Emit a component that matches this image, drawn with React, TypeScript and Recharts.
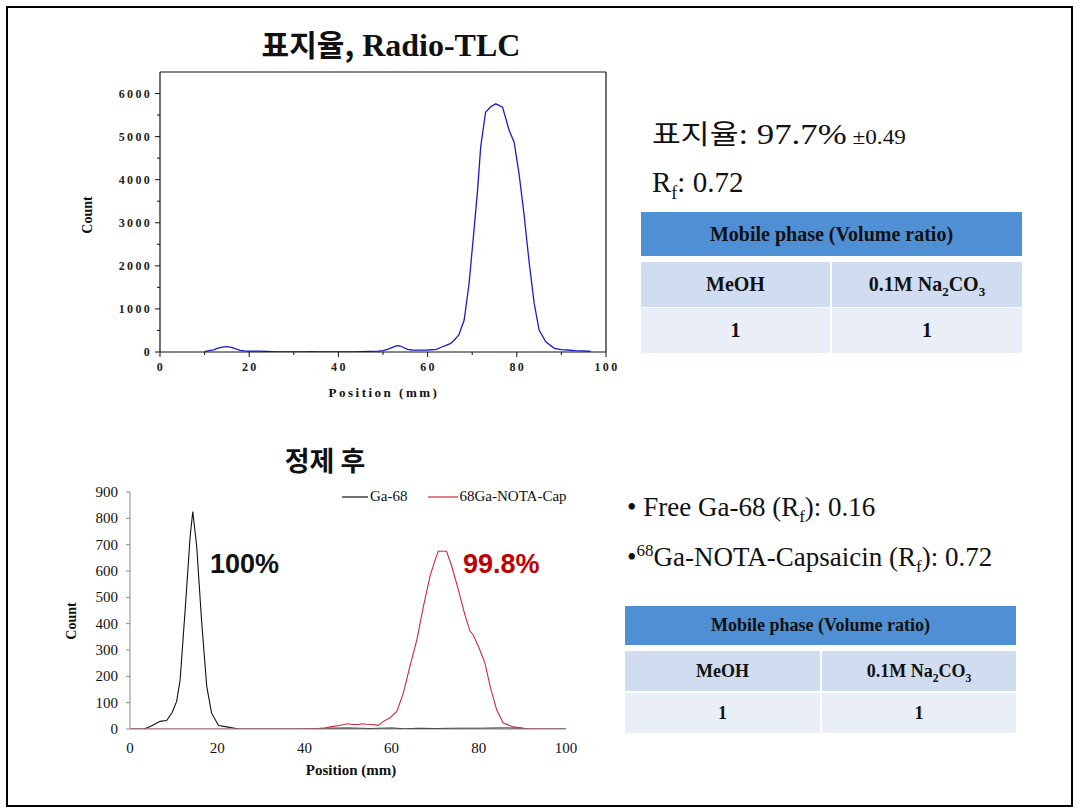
import React from 'react';
import { LineChart, Line, XAxis, YAxis, ReferenceLine, Legend } from 'recharts';

// ---- Top chart: 표지율, Radio-TLC ----
const tlcPosition = [10, 11, 12, 13, 14, 15, 16, 17, 18, 19, 20, 22, 24, 25, 26, 33, 34, 35, 44, 45, 47, 49, 50, 51, 52, 53, 53.6, 54.5, 55.5, 56.5, 58, 60, 62, 63, 64, 65.2, 66, 67, 68.2, 69.3, 70.4, 71.2, 71.9, 73, 74.2, 75.3, 76.8, 78.3, 79.4, 80.5, 81.6, 82.8, 83.9, 85, 86.5, 88.4, 90, 91.4, 93, 95, 96.6];
const tlcCount = [10, 30, 50, 90, 115, 123, 105, 70, 40, 25, 20, 18, 15, 10, 0, 0, 10, 0, 0, 10, 15, 20, 30, 60, 100, 140, 146, 110, 60, 46, 45, 46, 60, 110, 150, 200, 280, 394, 741, 1591, 2826, 3753, 4756, 5567, 5698, 5761, 5683, 5143, 4872, 4139, 3213, 2055, 1128, 510, 239, 85, 55, 46, 30, 25, 15];

// ---- Bottom chart: 정제 후 ----
const gaPosition = [0, 3, 3.4, 5, 6.9, 8.4, 9.6, 10.7, 11.5, 12.6, 13.8, 14.4, 15.3, 16.4, 17.6, 18.7, 20.3, 22.2, 24, 25, 40, 45, 50, 55, 60, 63, 66, 70, 75, 80, 85, 90, 92, 100];
const gaCount = [0, 0, 1, 12, 29, 32, 61, 105, 187, 441, 731, 826, 693, 415, 162, 61, 13, 8, 3, 0, 0, 3, 4, 2, 4, 1, 3, 2, 3, 3, 4, 3, 0, 0];
const capPosition = [0, 39, 43, 44.7, 46, 48.2, 50, 51, 52.4, 53.3, 54.3, 55.5, 57, 58.1, 59.6, 61.2, 62.7, 64.2, 65.8, 67.3, 68.8, 70, 70.7, 72.6, 73.8, 75.3, 76.8, 78, 78.7, 79.9, 81.4, 82.6, 84.1, 85.6, 87.9, 90.2, 92, 100];
const capCount = [0, 0, 2, 4, 8, 14, 20, 17, 17, 20, 18, 17, 14, 29, 42, 67, 137, 238, 339, 466, 580, 643, 675, 675, 618, 529, 434, 371, 358, 314, 251, 162, 73, 23, 8, 3, 0, 0];

const topXTicks = [0, 10, 20, 30, 40, 50, 60, 70, 80, 90, 100];
const topYTicks = [0, 500, 1000, 1500, 2000, 2500, 3000, 3500, 4000, 4500, 5000, 5500, 6000];
const bottomXTicks = [0, 20, 40, 60, 80, 100];
const bottomYTicks = [0, 100, 200, 300, 400, 500, 600, 700, 800, 900];
const seriesNames = ['Ga-68', '68Ga-NOTA-Cap'];

const tlcData = tlcPosition.map((x, i) => ({ x, y: tlcCount[i] }));
const gaData = gaPosition.map((x, i) => ({ x, y: gaCount[i] }));
const capData = capPosition.map((x, i) => ({ x, y: capCount[i] }));

const serif = '"Liberation Serif", "Times New Roman", serif';
const sans = '"Liberation Sans", Arial, sans-serif';
const kr = '"Noto Sans CJK KR", "Noto Sans", sans-serif';

function TopXTick(props: any) {
  const { x, y, payload } = props;
  const v = payload.value;
  const major = v % 20 === 0;
  return (
    <g>
      <line x1={x} y1={y} x2={x} y2={y + (major ? 5 : 3)} stroke="#111" strokeWidth={1} />
      {major ? (
        <text x={x + 1} y={y + 15} textAnchor="middle" dominantBaseline="central" fontFamily={serif} fontWeight="bold" fontSize={12} letterSpacing={2.3} fill="#222">
          {v}
        </text>
      ) : null}
    </g>
  );
}

function TopYTick(props: any) {
  const { x, y, payload } = props;
  const v = payload.value;
  const major = v % 1000 === 0;
  return (
    <g>
      <line x1={x - (major ? 5 : 3)} y1={y} x2={x} y2={y} stroke="#111" strokeWidth={1} />
      {major ? (
        <text x={x - 8} y={y} textAnchor="end" dominantBaseline="central" fontFamily={serif} fontWeight="bold" fontSize={12} letterSpacing={2.3} fill="#222">
          {v}
        </text>
      ) : null}
    </g>
  );
}

function BottomXTick(props: any) {
  const { x, y, payload } = props;
  return (
    <text x={x} y={y + 19} textAnchor="middle" dominantBaseline="central" fontFamily={serif} fontSize={15} fill="#111">
      {payload.value}
    </text>
  );
}

function BottomYTick(props: any) {
  const { x, y, payload } = props;
  return (
    <g>
      <line x1={x - 4} y1={y} x2={x} y2={y} stroke="#8a8a8a" strokeWidth={1} />
      <text x={x - 12} y={y} textAnchor="end" dominantBaseline="central" fontFamily={serif} fontSize={15} fill="#111">
        {payload.value}
      </text>
    </g>
  );
}

function LegendContent(props: any) {
  const items = [...(props.payload || [])].sort(
    (a: any, b: any) => seriesNames.indexOf(a.value) - seriesNames.indexOf(b.value)
  );
  return (
    <div style={{ display: 'flex', alignItems: 'center', fontFamily: serif, fontSize: 15, color: '#111', whiteSpace: 'nowrap' }}>
      {items.map((e: any, i: number) => (
        <div key={i} style={{ display: 'flex', alignItems: 'center', marginRight: i === 0 ? 20 : 0 }}>
          <svg width={i === 0 ? 26 : 30} height={4} style={{ display: 'block' }}>
            <line x1={0} y1={2} x2={i === 0 ? 26 : 30} y2={2} stroke={e.color} strokeWidth={1.2} />
          </svg>
          <span style={{ marginLeft: 2 }}>{e.value}</span>
        </div>
      ))}
    </div>
  );
}

function Txt(props: { left: number; cy: number; h: number; style?: React.CSSProperties; children: React.ReactNode; width?: number; center?: boolean }) {
  const { left, cy, h, style, children, width, center } = props;
  return (
    <div
      style={{
        position: 'absolute',
        left,
        top: cy - h / 2,
        height: h,
        lineHeight: `${h}px`,
        width: width,
        textAlign: center ? 'center' : 'left',
        whiteSpace: 'nowrap',
        color: '#111',
        ...style,
      }}
    >
      {children}
    </div>
  );
}

function PhaseTable(props: { left: number; width: number; split: number; rows: number[][]; fontSize: number }) {
  const { left, width, split, rows, fontSize } = props;
  const [hdr, r2, r3] = rows;
  const cell = (l: number, w: number, top: number, h: number, bg: string, content: React.ReactNode) => (
    <div
      style={{
        position: 'absolute',
        left: l,
        top,
        width: w,
        height: h,
        background: bg,
        display: 'flex',
        alignItems: 'center',
        justifyContent: 'center',
        fontFamily: serif,
        fontWeight: 'bold',
        fontSize,
        color: '#111',
        whiteSpace: 'nowrap',
      }}
    >
      {content}
    </div>
  );
  return (
    <>
      {cell(left, width, hdr[0], hdr[1], '#4f8fd4', 'Mobile phase (Volume ratio)')}
      {cell(left, split - 1, r2[0], r2[1], '#d0dcef', 'MeOH')}
      {cell(left + split + 1, width - split - 1, r2[0], r2[1], '#d0dcef', (
        <span>
          0.1M Na<sub style={{ fontSize: '0.65em', lineHeight: 0 }}>2</sub>CO<sub style={{ fontSize: '0.65em', lineHeight: 0 }}>3</sub>
        </span>
      ))}
      {cell(left, split - 1, r3[0], r3[1], '#e9eef7', '1')}
      {cell(left + split + 1, width - split - 1, r3[0], r3[1], '#e9eef7', '1')}
    </>
  );
}

export default function App() {
  return (
    <div style={{ position: 'absolute', left: 0, top: 0, width: 1080, height: 808, background: '#fff', overflow: 'hidden' }}>
      {/* frame */}
      <div style={{ position: 'absolute', left: 6, top: 6, width: 1067, height: 801, border: '2px solid #000', boxSizing: 'border-box' }} />

      {/* top chart */}
      <div style={{ position: 'absolute', left: 0, top: 0, width: 620, height: 410 }}>
        <LineChart width={620} height={410} margin={{ top: 72, left: 159, right: 14, bottom: 57 }}>
          <XAxis
            type="number"
            dataKey="x"
            domain={[0, 100]}
            ticks={topXTicks}
            interval={0}
            tick={TopXTick}
            tickLine={false}
            tickSize={0}
            tickMargin={0}
            height={1}
            axisLine={{ stroke: '#111', strokeWidth: 1.2 }}
            allowDataOverflow
          />
          <YAxis
            type="number"
            domain={[0, 6500]}
            ticks={topYTicks}
            interval={0}
            tick={TopYTick}
            tickLine={false}
            tickSize={0}
            tickMargin={0}
            width={1}
            axisLine={{ stroke: '#111', strokeWidth: 1.2 }}
            allowDataOverflow
          />
          <ReferenceLine y={6500} stroke="#111" strokeWidth={1.2} />
          <ReferenceLine x={100} stroke="#111" strokeWidth={1.2} />
          <Line data={tlcData} dataKey="y" type="linear" stroke="#1c1cc6" strokeWidth={1.3} dot={false} isAnimationActive={false} />
        </LineChart>
      </div>

      {/* bottom chart */}
      <div style={{ position: 'absolute', left: 0, top: 420, width: 600, height: 388 }}>
        <LineChart width={600} height={388} margin={{ top: 72, left: 129, right: 34, bottom: 78 }}>
          <XAxis
            type="number"
            dataKey="x"
            domain={[0, 100]}
            ticks={bottomXTicks}
            interval={0}
            tick={BottomXTick}
            tickLine={false}
            tickSize={0}
            tickMargin={0}
            height={1}
            axisLine={{ stroke: '#8a8a8a', strokeWidth: 1 }}
            allowDataOverflow
          />
          <YAxis
            type="number"
            domain={[0, 900]}
            ticks={bottomYTicks}
            interval={0}
            tick={BottomYTick}
            tickLine={false}
            tickSize={0}
            tickMargin={0}
            width={1}
            axisLine={{ stroke: '#8a8a8a', strokeWidth: 1 }}
            allowDataOverflow
          />
          <Legend
            layout="vertical"
            verticalAlign="middle"
            align="center"
            content={LegendContent}
            wrapperStyle={{ left: 342, top: 68, right: 'auto', bottom: 'auto', width: 250, height: 20 }}
          />
          <Line name={seriesNames[0]} data={gaData} dataKey="y" type="linear" stroke="#111111" strokeWidth={1.1} dot={false} isAnimationActive={false} />
          <Line name={seriesNames[1]} data={capData} dataKey="y" type="linear" stroke="#cc2a3a" strokeWidth={1.1} dot={false} isAnimationActive={false} />
        </LineChart>
      </div>

      {/* top chart texts */}
      <Txt left={191} cy={43} h={42} width={400} center>
        <span style={{ fontFamily: kr, fontWeight: 700, fontSize: 30 }}>표지율,</span>
        <span style={{ fontFamily: serif, fontWeight: 700, fontSize: 32 }}> Radio-TLC</span>
      </Txt>
      <div style={{ position: 'absolute', left: 88 - 40, top: 215 - 10, width: 80, height: 20, lineHeight: '20px', textAlign: 'center', transform: 'rotate(-90deg)', fontFamily: serif, fontWeight: 700, fontSize: 14, color: '#111' }}>
        Count
      </div>
      <Txt left={284} cy={393} h={20} width={200} center style={{ fontFamily: serif, fontWeight: 700, fontSize: 13, letterSpacing: 2.5 }}>
        Position (mm)
      </Txt>

      {/* bottom chart texts */}
      <Txt left={225} cy={460} h={38} width={200} center style={{ fontFamily: kr, fontWeight: 700, fontSize: 27 }}>
        정제 후
      </Txt>
      <div style={{ position: 'absolute', left: 72 - 40, top: 621 - 10, width: 80, height: 20, lineHeight: '20px', textAlign: 'center', transform: 'rotate(-90deg)', fontFamily: serif, fontWeight: 700, fontSize: 14, color: '#111' }}>
        Count
      </div>
      <Txt left={251} cy={770} h={20} width={200} center style={{ fontFamily: serif, fontWeight: 700, fontSize: 15 }}>
        Position (mm)
      </Txt>
      <Txt left={210} cy={564} h={32} style={{ fontFamily: sans, fontWeight: 700, fontSize: 27 }}>
        100%
      </Txt>
      <Txt left={463} cy={564} h={32} style={{ fontFamily: sans, fontWeight: 700, fontSize: 27, color: '#c00000' }}>
        99.8%
      </Txt>

      {/* top right texts */}
      <Txt left={652} cy={133} h={38} style={{ transform: 'scaleX(1.16)', transformOrigin: 'left center' }}>
        <span style={{ fontFamily: kr, fontSize: 27 }}>표지율</span>
        <span style={{ fontFamily: serif, fontSize: 30 }}>: 97.7%</span>
        <span style={{ fontFamily: serif, fontSize: 20 }}> ±0.49</span>
      </Txt>
      <Txt left={652} cy={182} h={36} style={{ fontFamily: serif, fontSize: 29 }}>
        R<sub style={{ fontSize: 18, lineHeight: 0 }}>f</sub>: 0.72
      </Txt>
      <PhaseTable left={641} width={381} split={190} rows={[[212, 44], [262, 45], [308, 45]]} fontSize={20} />

      {/* bottom right texts */}
      <Txt left={627} cy={507} h={36} style={{ fontFamily: serif, fontSize: 27 }}>
        • Free Ga-68 (R<sub style={{ fontSize: 17, lineHeight: 0 }}>f</sub>): 0.16
      </Txt>
      <Txt left={627} cy={557} h={36} style={{ fontFamily: serif, fontSize: 27 }}>
        •<sup style={{ fontSize: 17, lineHeight: 0 }}>68</sup>Ga-NOTA-Capsaicin (R<sub style={{ fontSize: 17, lineHeight: 0 }}>f</sub>): 0.72
      </Txt>
      <PhaseTable left={625} width={391} split={196} rows={[[606, 39], [651, 40], [693, 40]]} fontSize={18} />
    </div>
  );
}
